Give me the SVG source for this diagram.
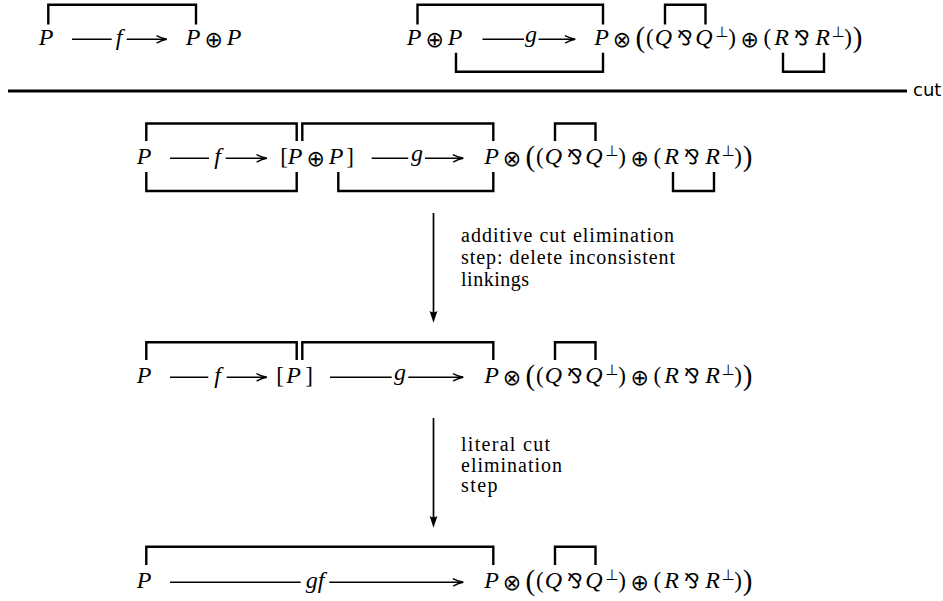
<svg xmlns="http://www.w3.org/2000/svg" width="943" height="601" viewBox="0 0 943 601">
<style>
  .m{font-family:"Liberation Serif",serif;font-style:italic;font-size:24px;text-anchor:middle;fill:#000}
  .r{font-family:"Liberation Serif",serif;font-size:23px;text-anchor:middle;fill:#000}
  .bp{font-family:"Liberation Serif",serif;font-size:29px;text-anchor:middle;fill:#000}
  .o{font-family:"DejaVu Sans",sans-serif;font-size:22px;text-anchor:middle;fill:#000}
  .par{font-family:"DejaVu Sans",sans-serif;font-size:20px;text-anchor:middle;fill:#000}
  .sup{font-family:"DejaVu Sans",sans-serif;font-size:15px;text-anchor:middle;fill:#000}
  .lbl{font-family:"Liberation Serif",serif;font-size:20px;fill:#000}
  .cut{font-family:"DejaVu Sans",sans-serif;font-size:18px;fill:#000}
  .br{fill:none;stroke:#000;stroke-width:2.4;stroke-linejoin:miter;stroke-linecap:butt}
  .ln{fill:none;stroke:#000;stroke-width:1.4}
  .hd{fill:none;stroke:#000;stroke-width:1.4;stroke-linecap:round}
  .vl{fill:none;stroke:#000;stroke-width:1.7}
</style>
<defs>
  <g id="expr">
    <text class="m" x="-1.5" y="0">P</text>
    <text class="o" x="19" y="1.5">⊗</text>
    <text class="bp" x="37.4" y="2">(</text>
    <text class="r" x="46.8" y="0">(</text>
    <text class="m" x="60.5" y="0">Q</text>
    <text class="par" x="81.9" y="-0.5">⅋</text>
    <text class="m" x="101" y="0">Q</text>
    <text class="sup" x="118.7" y="-8.5">⊥</text>
    <text class="r" x="129" y="0">)</text>
    <text class="o" x="146.7" y="1.5">⊕</text>
    <text class="r" x="164.4" y="0">(</text>
    <text class="m" x="178.5" y="0">R</text>
    <text class="par" x="198.8" y="-0.5">⅋</text>
    <text class="m" x="219.5" y="0">R</text>
    <text class="sup" x="235" y="-8.5">⊥</text>
    <text class="r" x="245.2" y="0">)</text>
    <text class="bp" x="254.5" y="2">)</text>
  </g>
</defs>

<!-- Row 1 -->
<g id="r1-P">
  <text class="m" x="46" y="45">P</text>
</g>
<g id="r1-PplusP">
  <text class="m" x="193" y="45">P</text>
  <text class="o" x="213.6" y="46.5">⊕</text>
  <text class="m" x="234" y="45">P</text>
</g>
<g id="r1-PplusP-2">
  <text class="m" x="414" y="45">P</text>
  <text class="o" x="434.6" y="46.5">⊕</text>
  <text class="m" x="455" y="45">P</text>
</g>
<g id="r1-expr">
  <use href="#expr" x="603" y="45"/>
</g>

<g id="cut">
  <line x1="8" y1="91" x2="907" y2="91" stroke="#000" stroke-width="3"/>
  <text class="cut" x="913" y="96">cut</text>
</g>

<!-- Row 2 -->
<g id="r2-P">
  <text class="m" x="144" y="164">P</text>
</g>
<g id="r2-cutPplusP">
  <text class="r" x="284.2" y="164">[</text>
  <text class="m" x="295" y="164">P</text>
  <text class="o" x="315.6" y="165.5">⊕</text>
  <text class="m" x="336" y="164">P</text>
  <text class="r" x="350" y="164">]</text>
</g>
<g id="r2-expr">
  <use href="#expr" x="493" y="164"/>
</g>

<g id="step1">
  <text class="lbl" x="461" y="242" textLength="213" lengthAdjust="spacing">additive cut elimination</text>
  <text class="lbl" x="461" y="264" textLength="214" lengthAdjust="spacing">step: delete inconsistent</text>
  <text class="lbl" x="461" y="286" textLength="68" lengthAdjust="spacing">linkings</text>
</g>

<!-- Row 3 -->
<g id="r3-P">
  <text class="m" x="144" y="383">P</text>
</g>
<g id="r3-cutP">
  <text class="r" x="280" y="383">[</text>
  <text class="m" x="293.5" y="383">P</text>
  <text class="r" x="309" y="383">]</text>
</g>
<g id="r3-expr">
  <use href="#expr" x="493" y="383"/>
</g>

<g id="step2">
  <text class="lbl" x="461" y="451" textLength="89" lengthAdjust="spacing">literal cut</text>
  <text class="lbl" x="461" y="471.5" textLength="101" lengthAdjust="spacing">elimination</text>
  <text class="lbl" x="461" y="492" textLength="36.5" lengthAdjust="spacing">step</text>
</g>

<!-- Row 4 -->
<g id="r4-P">
  <text class="m" x="144" y="588">P</text>
</g>
<g id="r4-expr">
  <use href="#expr" x="493" y="588"/>
</g>

<!-- Connectors -->
<g id="connectors">
  <!-- row 1 f -->
  <path class="ln" d="M72,39.3 H111.7 M126.7,39.3 H166.5"/>
  <path class="hd" d="M157,35.8 C160.5,37.6 164,38.8 166.8,39.3 C164,39.8 160.5,41 157,42.8"/>
  <text class="m" x="119" y="45">f</text>
  <!-- row 1 g -->
  <path class="ln" d="M482.5,39.3 H524 M538.5,39.3 H575"/>
  <path class="hd" d="M565.5,35.8 C569,37.6 572.5,38.8 575.3,39.3 C572.5,39.8 569,41 565.5,42.8"/>
  <text class="m" x="531" y="42.3">g</text>

  <!-- row 2 f -->
  <path class="ln" d="M170,158.3 H209 M225.7,158.3 H266.5"/>
  <path class="hd" d="M257,154.8 C260.5,156.6 264,157.8 266.8,158.3 C264,158.8 260.5,160 257,161.8"/>
  <text class="m" x="217.5" y="164">f</text>
  <!-- row 2 g -->
  <path class="ln" d="M371.7,158.3 H408.3 M425,158.3 H463"/>
  <path class="hd" d="M453.5,154.8 C457,156.6 460.5,157.8 463.3,158.3 C460.5,158.8 457,160 453.5,161.8"/>
  <text class="m" x="417" y="161.3">g</text>

  <!-- vertical 1 -->
  <line class="vl" x1="433.5" y1="213" x2="433.5" y2="314"/>
  <path d="M433.5,322.8 L429.6,311 Q433.5,313.6 437.4,311 Z" fill="#000"/>

  <!-- row 3 f -->
  <path class="ln" d="M170,377.3 H208.3 M226.7,377.3 H266.5"/>
  <path class="hd" d="M257,373.8 C260.5,375.6 264,376.8 266.8,377.3 C264,377.8 260.5,379 257,380.8"/>
  <text class="m" x="217.5" y="383">f</text>
  <!-- row 3 g -->
  <path class="ln" d="M330,377.3 H391.7 M408.3,377.3 H463"/>
  <path class="hd" d="M453.5,373.8 C457,375.6 460.5,376.8 463.3,377.3 C460.5,377.8 457,379 453.5,380.8"/>
  <text class="m" x="400" y="380.3">g</text>

  <!-- vertical 2 -->
  <line class="vl" x1="433.5" y1="418" x2="433.5" y2="519"/>
  <path d="M433.5,527.8 L429.6,516 Q433.5,518.6 437.4,516 Z" fill="#000"/>

  <!-- row 4 gf -->
  <path class="ln" d="M170,582.3 H300.7 M329.3,582.3 H463"/>
  <path class="hd" d="M453.5,578.8 C457,580.6 460.5,581.8 463.3,582.3 C460.5,582.8 457,584 453.5,585.8"/>
  <text class="m" x="315" y="588">gf</text>
</g>

<!-- Linkings -->
<g id="linkings">
  <!-- row 1 -->
  <path class="br" d="M48.3,24.5 V4.8 H196 V24.5"/>
  <path class="br" d="M417.5,24.5 V4.8 H603 V24.5"/>
  <path class="br" d="M456,52.7 V71.7 H603 V52.7"/>
  <path class="br" d="M665,24.5 V4.8 H705.5 V24.5"/>
  <path class="br" d="M783,52.7 V71.7 H824 V52.7"/>
  <!-- row 2 -->
  <path class="br" d="M146.3,141 V123.5 H296.7 V141"/>
  <path class="br" d="M146.3,172 V191 H296.7 V172"/>
  <path class="br" d="M302.3,141 V123.5 H493.3 V141"/>
  <path class="br" d="M338.3,172 V191 H493.3 V172"/>
  <path class="br" d="M555,141 V123.5 H595.5 V141"/>
  <path class="br" d="M673,172 V191 H714 V172"/>
  <!-- row 3 -->
  <path class="br" d="M146.3,360 V342.3 H296.7 V360"/>
  <path class="br" d="M302.3,360 V342.3 H493.3 V360"/>
  <path class="br" d="M555,360 V342.3 H595.5 V360"/>
  <!-- row 4 -->
  <path class="br" d="M146.3,565 V546.7 H493.3 V565"/>
  <path class="br" d="M555,565 V546.7 H595.5 V565"/>
</g>
</svg>
